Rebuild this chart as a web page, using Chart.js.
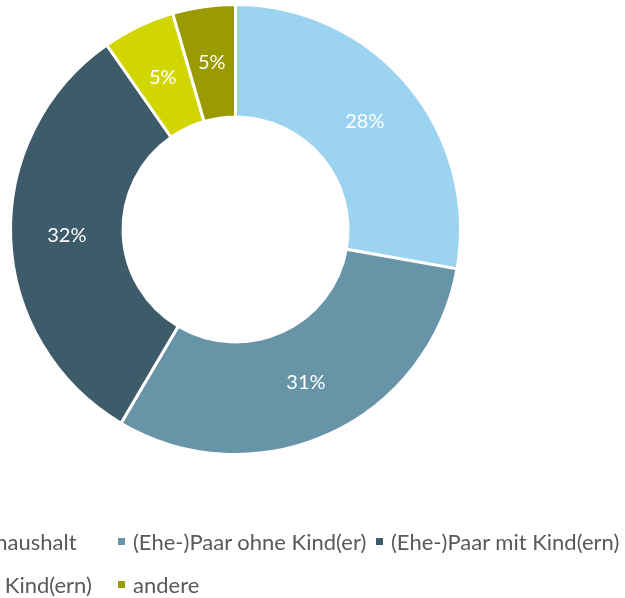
<!DOCTYPE html>
<html><head><meta charset="utf-8">
<script src="https://cdn.jsdelivr.net/npm/chart.js@4.4.0/dist/chart.umd.min.js"></script>
<style>
html,body{margin:0;padding:0;background:#fff;overflow:hidden;width:625px;height:598px;}
#wrap{position:relative;width:625px;height:598px;overflow:hidden;}
#c{position:absolute;left:0;top:0;}
#legend{position:absolute;left:-140px;top:520px;display:grid;grid-template-columns:258px 258px 258px;grid-auto-rows:43px;font-family:Lato,sans-serif;font-size:22px;color:#595959;}
.item{display:flex;align-items:center;white-space:nowrap;}
.box{width:7px;height:7px;margin-right:8px;flex:none;}
</style></head><body>
<div id="wrap"><canvas id="c" width="625" height="598"></canvas><div id="legend"></div></div>
<script>
const categories = ['Einpersonenhaushalt', '(Ehe-)Paar ohne Kind(er)', '(Ehe-)Paar mit Kind(ern)', 'Elternteil mit Kind(ern)', 'andere'];
const shares = [27.8, 30.7, 31.8, 5.2, 4.5];
const colors = ['#9BD3F0', '#6894A8', '#3E5B6A', '#D2D600', '#999B00'];

const htmlLegend = {
  id: 'htmlLegend',
  afterUpdate(chart) {
    const box = document.getElementById('legend');
    box.innerHTML = '';
    const items = chart.options.plugins.legend.labels.generateLabels(chart);
    items.forEach(it => {
      const d = document.createElement('div'); d.className = 'item';
      const s = document.createElement('span'); s.className = 'box'; s.style.background = it.fillStyle;
      const t = document.createElement('span'); t.textContent = it.text;
      d.appendChild(s); d.appendChild(t); box.appendChild(d);
    });
  }
};

const pctLabels = {
  id: 'pctLabels',
  afterDatasetsDraw(chart) {
    const ctx = chart.ctx;
    const meta = chart.getDatasetMeta(0);
    const data = chart.data.datasets[0].data;
    const total = data.reduce((a, b) => a + b, 0);
    ctx.save();
    ctx.font = '20px Lato';
    ctx.fillStyle = '#ffffff';
    ctx.textAlign = 'center';
    ctx.textBaseline = 'middle';
    meta.data.forEach((arc, i) => {
      const p = arc.tooltipPosition();
      ctx.fillText(Math.round(data[i] / total * 100) + '%', p.x, p.y);
    });
    ctx.restore();
  }
};

new Chart(document.getElementById('c'), {
  type: 'doughnut',
  data: {
    labels: categories,
    datasets: [{ data: shares, backgroundColor: colors, borderColor: '#ffffff', borderWidth: 3, hoverOffset: 0 }]
  },
  options: {
    responsive: false,
    animation: false,
    radius: 225,
    cutout: '50%',
    layout: { padding: { left: 12, top: 6, right: 166, bottom: 145 } },
    plugins: { legend: { display: false }, tooltip: { enabled: false } }
  },
  plugins: [htmlLegend, pctLabels]
});
</script>
</body></html>
